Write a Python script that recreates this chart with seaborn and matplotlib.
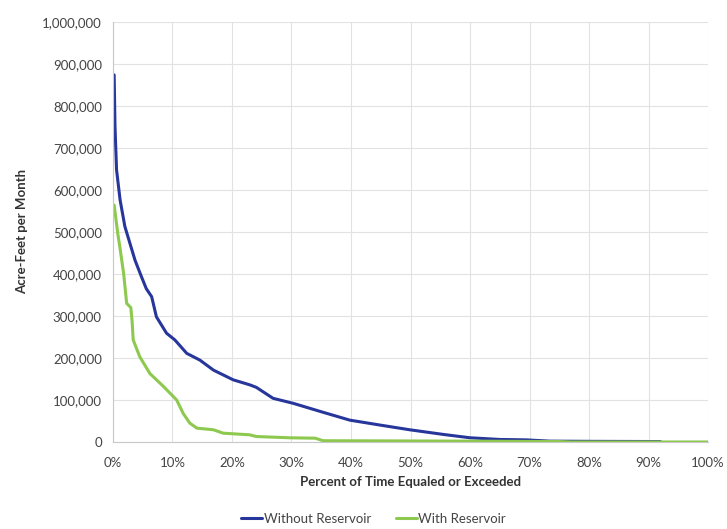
import matplotlib
matplotlib.use("Agg")
import matplotlib.pyplot as plt
import matplotlib.ticker as mticker
import seaborn as sns
import pandas as pd

# ---- data ----
pct_without = [0.2, 0.34, 0.6, 1.2, 2.0, 3.7, 4.8, 5.6, 6.5, 7.3, 9.0, 10.4, 12.4,
               14.6, 16.9, 20.2, 23.0, 24.1, 26.9, 30.3, 35, 39.8, 45, 49.9, 55.5,
               60, 65, 69.5, 73.4, 80, 92]
val_without = [874000, 751000, 648000, 576000, 513000, 433000, 393000, 365000,
               346000, 298000, 259000, 243000, 211000, 195000, 171000, 148000,
               136000, 130000, 104000, 92000, 72000, 52000, 40000, 29000, 18000,
               10000, 6000, 5000, 2000, 1500, 1000]

pct_with = [0.2, 0.8, 1.2, 1.8, 2.3, 3.0, 3.2, 3.4, 4.5, 6.2, 8.5, 10.7, 11.8,
            12.9, 14.1, 16.9, 18.5, 23, 24.1, 29.7, 34, 35.3, 60, 75, 77, 100]
val_with = [564000, 497000, 460000, 400000, 330000, 320000, 290000, 243000,
            203000, 163000, 132000, 100000, 68000, 45000, 33000, 29000, 21000,
            17000, 13000, 10000, 9000, 3000, 2000, 1000, 0, 0]

series_names = ["Without Reservoir", "With Reservoir"]
x_ticks = list(range(0, 101, 10))
y_ticks = list(range(0, 1000001, 100000))

df = pd.concat([
    pd.DataFrame({"pct": pct_without, "val": val_without, "series": series_names[0]}),
    pd.DataFrame({"pct": pct_with, "val": val_with, "series": series_names[1]}),
])

sns.set_theme(style="white")
plt.rcParams["font.family"] = ["Lato", "DejaVu Sans"]

fig = plt.figure(figsize=(7.27, 5.29), dpi=100)
ax = fig.add_axes([0.1554, 0.1645, 0.8185, 0.7939])

palette = {"Without Reservoir": "#27369a", "With Reservoir": "#8dc94e"}
sns.lineplot(data=df, x="pct", y="val", hue="series", palette=palette,
             linewidth=2.2, ax=ax, estimator=None, sort=False)

ax.set_xlim(0, 100)
ax.set_ylim(0, 1000000)
ax.set_xticks(x_ticks)
ax.set_yticks(y_ticks)
ax.xaxis.set_major_formatter(mticker.FuncFormatter(lambda v, p: f"{int(v)}%"))
ax.yaxis.set_major_formatter(mticker.FuncFormatter(lambda v, p: f"{int(v):,}"))
ax.tick_params(axis="both", labelsize=9.5, colors="#9a9a9a", length=4, width=0.8,
               direction="out")
ax.tick_params(axis="x", pad=7)
ax.tick_params(axis="y", pad=4)
ax.tick_params(axis="both", labelcolor="#444444")
ax.grid(True, color="#e2e2e2", linewidth=0.8)
for side in ["top", "right"]:
    ax.spines[side].set_visible(False)
for side in ["left", "bottom"]:
    ax.spines[side].set_color("#c8c8c8")
    ax.spines[side].set_linewidth(0.8)

ax.set_xlabel("Percent of Time Equaled or Exceeded", fontsize=9.5,
              fontweight="bold", color="#333333", labelpad=5)
ax.set_ylabel("Acre-Feet per Month", fontsize=9.5, fontweight="bold",
              color="#333333", labelpad=10)

leg = ax.legend(loc="upper center", bbox_to_anchor=(0.438, -0.141), ncol=2,
                frameon=False, fontsize=9.5, handlelength=1.6,
                handletextpad=0.1, columnspacing=1.9)
for t in leg.get_texts():
    t.set_color("#444444")

fig.savefig("out.png", dpi=100, facecolor="white")
